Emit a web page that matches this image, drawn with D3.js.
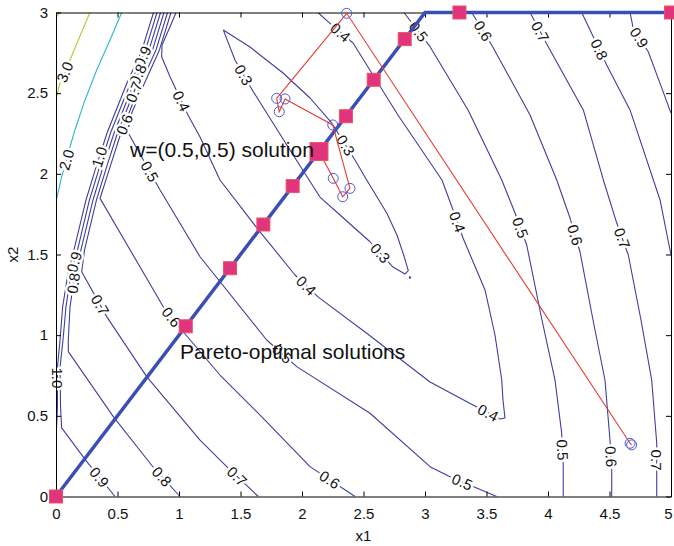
<!DOCTYPE html>
<html>
<head>
<meta charset="utf-8">
<script src="https://cdn.jsdelivr.net/npm/d3@7"></script>
<style>
  html, body { margin: 0; padding: 0; background: #fff; }
  svg { display: block; font-family: "Liberation Sans", Arial, Helvetica, sans-serif; }
</style>
</head>
<body>
<svg id="chart" width="674" height="546"></svg>
<script>
// ---------------- data (x1, x2) ----------------
// Contour polylines of the scalarised objective, one array per traced line
const c30a = [[0.276,3.0],[0.195,2.854],[0.114,2.706],[0.027,2.551],[0,2.458]];
const c30b = [[0,2.966],[0.027,3.0]];
const c20  = [[0.534,3.0],[0.439,2.830],[0.331,2.644],[0.236,2.458],[0.154,2.272],[0.114,2.168],[0.046,1.982],[0,1.827]];
const c10  = [[0.793,3.0],[0.699,2.768],[0.577,2.563],[0.415,2.253],[0.325,2.042],[0.244,1.838],[0.146,1.528],[0.098,1.385],[0.054,1.175],[0.033,0.970],[0.012,0.803],[0.012,0.555],[0,0.350]];
const c09a = [[0.821,3.0],[0.728,2.768],[0.606,2.563],[0.443,2.253],[0.354,2.042],[0.272,1.838],[0.175,1.528],[0.122,1.385],[0.081,1.175],[0.057,0.970],[0.033,0.803],[0.037,0.555],[0.046,0.425],[0.250,0.216],[0.480,0]];
const c09b = [[4.667,3.0],[4.693,2.902],[4.815,2.757],[4.911,2.561],[5.0,2.377]];
const c08a = [[0.850,3.0],[0.756,2.768],[0.634,2.563],[0.472,2.253],[0.382,2.042],[0.301,1.838],[0.203,1.528],[0.154,1.385],[0.114,1.175],[0.100,0.970],[0.100,0.898],[0.466,0.495],[0.789,0.183],[1.008,0]];
const c08b = [[4.274,3.0],[4.368,2.850],[4.477,2.675],[4.667,2.396],[4.911,1.838],[5.0,1.497]];
const c07a = [[0.878,3.0],[0.785,2.768],[0.663,2.563],[0.500,2.253],[0.411,2.042],[0.329,1.838],[0.232,1.528],[0.209,1.393],[0.412,1.115],[0.737,0.743],[1.171,0.350],[1.388,0.185],[1.645,0]];
const c07b = [[3.854,3.0],[4.002,2.788],[4.287,2.396],[4.450,1.962],[4.559,1.695],[4.653,1.497],[4.756,1.094],[4.843,0.722],[4.884,0.332],[4.884,0]];
const c06a = [[0.907,3.0],[0.813,2.768],[0.691,2.563],[0.528,2.253],[0.439,2.042],[0.372,1.881],[0.358,1.848],[0.872,1.176],[1.022,1.032],[1.333,0.753],[1.699,0.474],[2.065,0.185],[2.431,0]];
const c06b = [[3.380,3.0],[3.542,2.799],[3.854,2.365],[4.071,1.962],[4.179,1.726],[4.260,1.517],[4.366,1.094],[4.463,0.722],[4.504,0.350],[4.518,0.164],[4.518,0]];
const c05a = [[0.935,3.0],[0.841,2.768],[0.720,2.563],[0.626,2.396],[0.565,2.284],[0.846,1.900],[1.171,1.486],[1.713,0.970],[1.957,0.805],[2.553,0.516],[3.041,0.185],[3.203,0.123],[3.583,0]];
const c05b = [[2.829,3.0],[3.041,2.788],[3.350,2.396],[3.624,1.962],[3.732,1.757],[3.827,1.559],[3.951,1.094],[4.057,0.722],[4.111,0.394],[4.124,0.195],[4.124,0]];
const c04  = [[0.976,3.0],[0.927,2.912],[0.862,2.799],[0.859,2.726],[0.927,2.602],[1.073,2.365],[1.171,2.228],[1.333,1.962],[1.634,1.664],[1.943,1.373],[2.130,1.237],[2.526,1.012],[3.041,0.710],[3.390,0.567],[3.610,0.480],[3.650,0.487],[3.634,0.598],[3.624,0.722],[3.569,1.001],[3.488,1.280],[3.309,1.602],[3.228,1.776],[3.138,1.962],[2.780,2.365],[2.415,2.811],[2.211,2.943],[2.130,3.0]];
const c03  = [[1.360,2.892],[1.577,2.786],[1.846,2.625],[2.065,2.470],[2.236,2.321],[2.431,2.086],[2.526,1.962],[2.689,1.757],[2.772,1.621],[2.829,1.491],[2.864,1.400],[2.837,1.379],[2.740,1.422],[2.553,1.579],[2.309,1.745],[2.146,1.856],[1.902,2.148],[1.604,2.509],[1.455,2.706],[1.360,2.892]];
const c03dot = [[2.872,1.364],[2.884,1.358],[2.876,1.352],[2.872,1.364]];

// Inline contour labels: [level, x1, x2]
const contourLabels = [
  [3.0,0.069,2.631],[2.0,0.087,2.086],
  [1.0,0.344,2.106],[1.0,0.006,0.735],
  [0.9,0.715,2.724],[0.9,0.141,1.455],[0.9,0.344,0.115],[0.9,4.734,2.840],
  [0.8,0.675,2.613],[0.8,0.141,1.322],[0.8,0.859,0.123],[0.8,4.409,2.768],
  [0.7,0.634,2.507],[0.7,0.331,1.176],[0.7,1.469,0.123],[0.7,3.935,2.881],[0.7,4.599,1.600],[0.7,4.870,0.226],
  [0.6,0.534,2.313],[0.6,0.927,1.106],[0.6,2.214,0.092],[0.6,3.461,2.881],[0.6,4.220,1.621],[0.6,4.504,0.247],
  [0.5,0.737,2.003],[0.5,1.846,0.889],[0.5,3.298,0.082],[0.5,2.946,2.881],[0.5,3.759,1.662],[0.5,4.111,0.288],
  [0.4,1.008,2.447],[0.4,2.024,1.299],[0.4,3.512,0.518],[0.4,3.271,1.703],[0.4,2.309,2.873],
  [0.3,2.336,2.168],[0.3,1.496,2.600],[0.3,2.634,1.507]
];

// Pareto front and sampled Pareto-optimal solutions
const paretoFront = [[0,0],[3,3],[5,3]];
const paretoPoints = [[0,0],[1.055,1.055],[1.415,1.415],[1.686,1.686],[1.924,1.924],[2.357,2.357],[2.583,2.583],[2.835,2.835],[3.280,3.0],[5.0,3.0]];
const wSolution = [2.138,2.138];

// Search trajectory towards the w=(0.5,0.5) solution
const trajectory = [[4.680,0.320],[4.667,0.330],[2.363,2.995],[1.794,2.468],[1.815,2.385],[1.862,2.464],[2.250,2.303],[2.390,1.910],[2.331,1.858],[2.254,1.972],[2.138,2.138]];

const xTicks = [0,0.5,1,1.5,2,2.5,3,3.5,4,4.5,5];
const yTicks = [0,0.5,1,1.5,2,2.5,3];

// ---------------- drawing ----------------
const W = 674, H = 546;
const margin = {top: 12.5, right: 3, bottom: 49.5, left: 56};
const x = d3.scaleLinear().domain([0,5]).range([margin.left, W - margin.right]);
const y = d3.scaleLinear().domain([0,3]).range([H - margin.bottom, margin.top]);

const svg = d3.select("#chart");
svg.append("defs").append("clipPath").attr("id","plotClip")
  .append("rect")
  .attr("x", x(0)).attr("y", y(3))
  .attr("width", x(5) - x(0)).attr("height", y(0) - y(3));

const lineGen = d3.line().x(d => x(d[0])).y(d => y(d[1]));

const contourLines = [
  {level:3.0, pts:c30a}, {level:3.0, pts:c30b},
  {level:2.0, pts:c20},
  {level:1.0, pts:c10},
  {level:0.9, pts:c09a}, {level:0.9, pts:c09b},
  {level:0.8, pts:c08a}, {level:0.8, pts:c08b},
  {level:0.7, pts:c07a}, {level:0.7, pts:c07b},
  {level:0.6, pts:c06a}, {level:0.6, pts:c06b},
  {level:0.5, pts:c05a}, {level:0.5, pts:c05b},
  {level:0.4, pts:c04},
  {level:0.3, pts:c03}, {level:0.3, pts:c03dot}
];
const colorFor = lv => lv >= 2.5 ? "#b8c634" : lv >= 1.5 ? "#2cb4d3" : "#3d3e9f";

const cg = svg.append("g").attr("clip-path", "url(#plotClip)");
cg.selectAll("path.contour").data(contourLines).join("path")
  .attr("class","contour")
  .attr("d", d => lineGen(d.pts))
  .attr("fill","none")
  .attr("stroke", d => colorFor(d.level))
  .attr("stroke-width", 1.1)
  .attr("stroke-linejoin","round");

// snap each label onto its contour and align it with the local direction
function placeLabel([lv, lx, ly]) {
  const px = x(lx), py = y(ly);
  let best = null;
  contourLines.filter(c => c.level === lv).forEach(c => {
    for (let i = 0; i < c.pts.length - 1; i++) {
      const ax = x(c.pts[i][0]), ay = y(c.pts[i][1]);
      const bx = x(c.pts[i+1][0]), by = y(c.pts[i+1][1]);
      const dx = bx - ax, dy = by - ay, L2 = dx*dx + dy*dy;
      let t = L2 ? ((px-ax)*dx + (py-ay)*dy) / L2 : 0;
      t = Math.max(0, Math.min(1, t));
      const qx = ax + t*dx, qy = ay + t*dy;
      const d2 = (qx-px)*(qx-px) + (qy-py)*(qy-py);
      if (!best || d2 < best.d2) best = {d2, qx, qy, ang: Math.atan2(dy, dx) * 180 / Math.PI};
    }
  });
  let a = best.ang;
  if (a > 90) a -= 180;
  if (a <= -90) a += 180;
  return {text: lv.toFixed(1), x: best.qx, y: best.qy, a};
}

svg.append("g").selectAll("text").data(contourLabels.map(placeLabel)).join("text")
  .attr("transform", d => `translate(${d.x},${d.y}) rotate(${d.a})`)
  .attr("text-anchor","middle")
  .attr("dy","0.36em")
  .attr("font-size", 15)
  .attr("fill","#111")
  .attr("stroke","#fff")
  .attr("stroke-width",5)
  .attr("stroke-linejoin","round")
  .attr("paint-order","stroke")
  .text(d => d.text);

// axes (box with inward ticks)
const fmt = d3.format("~g");
function styleAxis(g) {
  g.selectAll("path.domain").attr("stroke","#000").attr("stroke-width",1);
  g.selectAll(".tick line").attr("stroke","#000");
  g.selectAll("text").attr("font-family","'Liberation Sans', Arial, sans-serif").attr("font-size",15).attr("fill","#111");
}
const xAxisG = svg.append("g").attr("transform",`translate(0,${y(0)})`)
  .call(d3.axisBottom(x).tickValues(xTicks).tickFormat(fmt).tickSizeInner(-5).tickSizeOuter(0).tickPadding(11.5))
  .call(styleAxis);
// keep the last tick label inside the page
xAxisG.selectAll(".tick text").filter(d => d === 5).attr("dx", -3);
svg.append("g").attr("transform",`translate(${x(0)},0)`)
  .call(d3.axisLeft(y).tickValues(yTicks).tickFormat(fmt).tickSizeInner(-5).tickSizeOuter(0).tickPadding(8))
  .call(styleAxis);
svg.append("g").attr("transform",`translate(0,${y(3)})`)
  .call(d3.axisTop(x).tickValues(xTicks).tickFormat("").tickSizeInner(-5).tickSizeOuter(0))
  .call(styleAxis);
svg.append("g").attr("transform",`translate(${x(5)},0)`)
  .call(d3.axisRight(y).tickValues(yTicks).tickFormat("").tickSizeInner(-5).tickSizeOuter(0))
  .call(styleAxis);

svg.append("text").attr("x", (x(0)+x(5))/2).attr("y", 541)
  .attr("text-anchor","middle").attr("font-size",15).attr("fill","#111").text("x1");
svg.append("text").attr("transform",`translate(18,${(y(0)+y(3))/2}) rotate(-90)`)
  .attr("text-anchor","middle").attr("font-size",15).attr("fill","#111").text("x2");

// Pareto front
svg.append("path").attr("d", lineGen(paretoFront))
  .attr("fill","none").attr("stroke","#3a4eb6").attr("stroke-width",3.5);

// trajectory
svg.append("path").attr("d", lineGen(trajectory))
  .attr("fill","none").attr("stroke","#e63a2c").attr("stroke-width",1.1);
svg.append("g").selectAll("circle").data(trajectory).join("circle")
  .attr("cx", d => x(d[0])).attr("cy", d => y(d[1])).attr("r",5)
  .attr("fill","none").attr("stroke","#4a5ad4").attr("stroke-width",1);

// Pareto-optimal samples
const sq = 13, bigSq = 18;
svg.append("g").selectAll("rect").data(paretoPoints).join("rect")
  .attr("x", d => x(d[0]) - sq/2).attr("y", d => y(d[1]) - sq/2)
  .attr("width", sq).attr("height", sq)
  .attr("fill","#e0357c").attr("stroke","#ec5260").attr("stroke-width",1);
svg.append("rect")
  .attr("x", x(wSolution[0]) - bigSq/2).attr("y", y(wSolution[1]) - bigSq/2)
  .attr("width", bigSq).attr("height", bigSq)
  .attr("fill","#e0357c").attr("stroke","#ec5260").attr("stroke-width",1);

// annotations
svg.append("text").attr("x", x(0.602)).attr("y", y(2.104))
  .attr("font-size",21).attr("fill","#111").text("w=(0.5,0.5) solution");
svg.append("text").attr("x", x(1.008)).attr("y", y(0.852))
  .attr("font-size",21).attr("fill","#111").text("Pareto-optimal solutions");
</script>
</body>
</html>
